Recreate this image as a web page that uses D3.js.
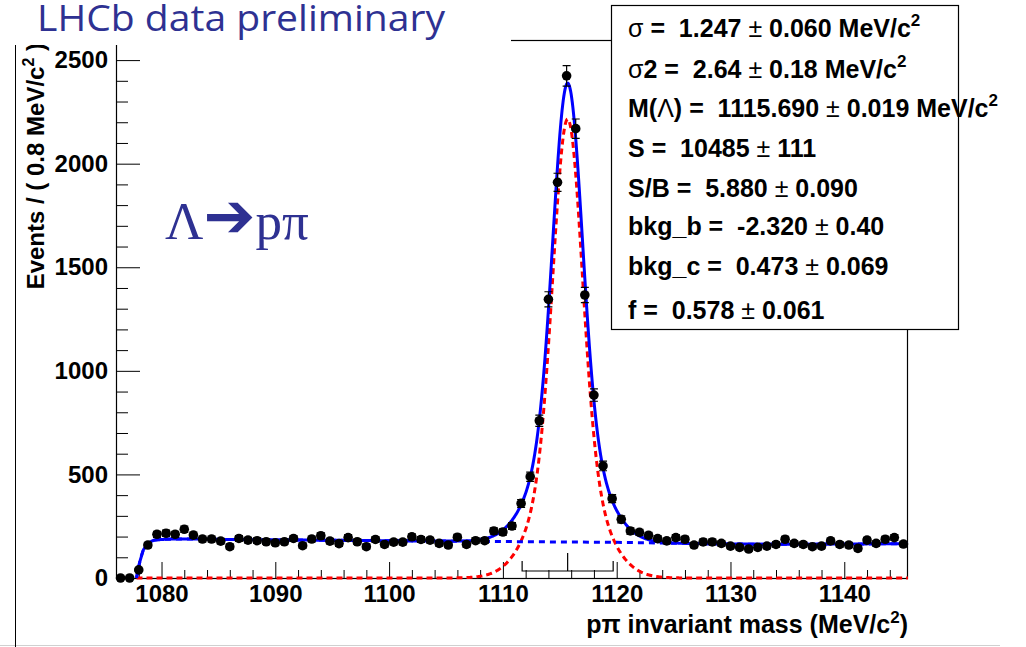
<!DOCTYPE html>
<html><head><meta charset="utf-8">
<script src="https://cdn.jsdelivr.net/npm/d3@7"></script>
<style>
body{margin:0;background:#fff}
svg{display:block}
</style>
</head><body>
<svg id="chart" width="1026" height="647" font-family="Liberation Sans, Arial, Helvetica, sans-serif"></svg>
<script>
// ---------- data ----------
const titleText = "LHCb data preliminary";
const decayLabel = ["Λ", "➔", "pπ"];
const xTitleParts = ["pπ invariant mass (MeV/c", "2", ")"];
const yTitleParts = ["Events / ( 0.8 MeV/c", "2", " )"];

const histLow = 1076.0, histHigh = 1145.6, binWidth = 0.8;
const counts = [
  0,0,39,159,211,216,211,235,207,188,188,178,151,191,183,180,175,170,175,191,
  156,188,204,178,166,195,175,151,186,162,173,173,199,186,183,167,159,197,162,180,
  180,227,222,251,360,
  489,759,1345,1910,2424,2169,1366,883,541,383,
  283,227,220,206,190,179,195,187,159,174,174,167,154,148,140,148,154,162,187,167,
  162,151,154,179,162,159,143,183,167,187,195,164
];

const xMajorTicks = [1080,1090,1100,1110,1120,1130,1140];
const xMinorTicks = [1078,1082,1084,1086,1088,1092,1094,1096,1098,1102,1104,1106,1108,
                     1112,1114,1116,1118,1122,1124,1126,1128,1132,1134,1136,1138,1142,1144];
const yMajorTicks = [0,500,1000,1500,2000,2500];
const yMinorTicks = [100,200,300,400,600,700,800,900,1100,1200,1300,1400,1600,1700,1800,1900,2100,2200,2300,2400];
const yMax = 2597;

// fit parameters (printed on the chart) and curve levels
const fitMean = 1115.690, fitSigma1 = 1.247, fitSigma2 = 2.64, fitFrac = 0.578;
const signalPeak = 2215;
const fitRange = [1077.8, 1145.6];
const bkgMass  = [1077.8,1078.1,1078.4,1078.8,1079.3,1080,1081,1083,1086,1090,1095,1100,1105,1110,1115,1120,1125,1130,1135,1140,1145.6];
const bkgLevel = [0,80,135,168,182,186,188,188,186,184,182,180,178,176,174,172,168,164,163,164,166];
const signalWindow = [1111.69, 1119.69];

const paramNames  = ["σ","σ2","M(Λ)","S","S/B","bkg_b","bkg_c","f"];
const paramValues = ["1.247","2.64","1115.690","10485","5.880","-2.320","0.473","0.578"];
const paramErrors = ["0.060","0.18","0.019","111","0.090","0.40","0.069","0.061"];
const paramUnits  = ["MeV/c","MeV/c","MeV/c","","","","",""];

// ---------- layout ----------
const svg = d3.select("#chart");
const X0 = 116, X1 = 908, Y0 = 578, Y1 = 40;
const x = d3.scaleLinear().domain([histLow, histHigh]).range([X0, X1]);
const y = d3.scaleLinear().domain([0, yMax]).range([Y0, Y1]);

// page decorations
svg.append("line").attr("x1",0).attr("x2",1000).attr("y1",645.5).attr("y2",645.5).attr("stroke","#d0d0d0");
svg.append("line").attr("x1",15.5).attr("x2",15.5).attr("y1",45).attr("y2",647).attr("stroke","#000");

// axes (ticks inside the frame)
svg.append("g").attr("transform",`translate(${X0},0)`)
  .call(d3.axisLeft(y).tickValues(yMajorTicks).tickSizeInner(-24).tickSizeOuter(0).tickPadding(8).tickFormat(d3.format("d")));
svg.append("g").attr("transform",`translate(${X0},0)`)
  .call(d3.axisLeft(y).tickValues(yMinorTicks).tickSizeInner(-12).tickSizeOuter(0).tickFormat(""));
svg.append("g").attr("transform",`translate(0,${Y0})`)
  .call(d3.axisBottom(x).tickValues(xMajorTicks).tickSizeInner(-16).tickSizeOuter(0).tickPadding(7).tickFormat(d3.format("d")));
svg.append("g").attr("transform",`translate(0,${Y0})`)
  .call(d3.axisBottom(x).tickValues(xMinorTicks).tickSizeInner(-8).tickSizeOuter(0).tickFormat(""));
svg.selectAll(".domain").remove();
svg.selectAll(".tick line").attr("stroke","#000");
svg.selectAll(".tick text").attr("font-size",24).attr("font-weight","bold").attr("fill","#000")
  .style("font-family","Liberation Sans, Arial, sans-serif");

// frame
svg.append("rect").attr("x",X0+0.5).attr("y",Y1+0.5).attr("width",X1-X0-1).attr("height",Y0-Y1)
  .attr("fill","none").attr("stroke","#000").attr("stroke-width",1.2);

// axis titles
const xt = svg.append("text").attr("x",X1).attr("y",633).attr("text-anchor","end")
  .attr("font-size",25).attr("font-weight","bold");
xt.append("tspan").text(xTitleParts[0]);
xt.append("tspan").attr("dy",-10).attr("font-size",17).text(xTitleParts[1]);
xt.append("tspan").attr("dy",10).text(xTitleParts[2]);

const yt = svg.append("text").attr("transform","translate(44,43) rotate(-90)").attr("text-anchor","end")
  .attr("font-size",24).attr("font-weight","bold");
yt.append("tspan").text(yTitleParts[0]);
yt.append("tspan").attr("dy",-10).attr("font-size",16).text(yTitleParts[1]);
yt.append("tspan").attr("dy",10).text(yTitleParts[2]);

// ---------- fit curves ----------
const norm = fitFrac/fitSigma1 + (1-fitFrac)/fitSigma2;
const signal = m => signalPeak * (fitFrac*Math.exp(-0.5*((m-fitMean)/fitSigma1)**2)/fitSigma1
                    + (1-fitFrac)*Math.exp(-0.5*((m-fitMean)/fitSigma2)**2)/fitSigma2) / norm;
const bkgAt = d3.scaleLinear().domain(bkgMass).range(bkgLevel).clamp(true);
const grid = d3.range(fitRange[0], fitRange[1] + 1e-9, 0.05);

const line = d3.line().x(d => x(d[0])).y(d => y(d[1]));
svg.append("path").datum(grid.map(m => [m, signal(m)]))
  .attr("d", line).attr("fill","none").attr("stroke","#ff0000").attr("stroke-width",3).attr("stroke-dasharray","6,4");
svg.append("path").datum(bkgMass.map((m,i) => [m, bkgLevel[i]]))
  .attr("d", d3.line().x(d => x(d[0])).y(d => y(d[1])).curve(d3.curveMonotoneX))
  .attr("fill","none").attr("stroke","#0000ff").attr("stroke-width",3).attr("stroke-dasharray","6,5");
svg.append("path").datum(grid.map(m => [m, bkgAt(m) + signal(m)]))
  .attr("d", line).attr("fill","none").attr("stroke","#0000ff").attr("stroke-width",3);

// signal window bracket
const wl = x(signalWindow[0]), wr = x(signalWindow[1]), wc = x(fitMean);
svg.append("path").attr("d",`M${wl},561V571H${wr}V561M${wc},553V571`).attr("fill","none").attr("stroke","#000").attr("stroke-width",1.2);

// ---------- data points ----------
const pts = counts.map((c,i) => ({m: histLow + binWidth*(i+0.5), c}));
const gp = svg.append("g");
gp.selectAll("path.err").data(pts).join("path").attr("class","err")
  .attr("d", d => {const e = Math.sqrt(d.c), cx = x(d.m);
     return `M${cx},${y(d.c+e)}V${y(d.c-e)}M${cx-4},${y(d.c+e)}H${cx+4}M${cx-4},${y(d.c-e)}H${cx+4}`;})
  .attr("stroke","#000").attr("stroke-width",1.2).attr("fill","none");
gp.selectAll("circle").data(pts).join("circle")
  .attr("cx", d => x(d.m)).attr("cy", d => y(d.c)).attr("r",4.8).attr("fill","#000");

// ---------- title ----------
svg.append("rect").attr("x",0).attr("y",0).attr("width",511).attr("height",45).attr("fill","#fff");
svg.append("text").attr("x",37).attr("y",31).style("font-family","Open Sans, sans-serif")
  .attr("font-size",37).attr("textLength",408).attr("lengthAdjust","spacingAndGlyphs")
  .attr("fill","#2e3192").text(titleText);

// decay label
const dl = svg.append("text").attr("x",165).attr("y",239).style("font-family","Liberation Serif, Times New Roman, serif")
  .attr("font-size",53).attr("fill","#2e3192");
dl.append("tspan").text(decayLabel[0]);
dl.append("tspan").style("font-family","DejaVu Sans, sans-serif").attr("font-size",62).attr("dy",-2).text(decayLabel[1]);
dl.append("tspan").attr("dy",2).text(decayLabel[2]);

// ---------- parameter box ----------
svg.append("rect").attr("x",611.5).attr("y",5.5).attr("width",347).attr("height",324)
  .attr("fill","#fff").attr("stroke","#000").attr("stroke-width",1.2);
const baselines = [37,78,117,157,197,235,275,319];
paramNames.forEach((name,i) => {
  const t = svg.append("text").attr("x",628).attr("y",baselines[i]).attr("font-size",25)
    .attr("font-weight","bold").style("white-space","pre");
  for (const ch of name) {
    const greek = /[σΛ]/.test(ch);
    t.append("tspan").attr("font-weight", greek ? "normal" : "bold").text(ch);
  }
  t.append("tspan").text(" =  " + paramValues[i]);
  t.append("tspan").attr("font-weight","normal").text(" ± ");
  t.append("tspan").text(paramErrors[i]);
  if (paramUnits[i]) {
    t.append("tspan").text(" " + paramUnits[i]);
    t.append("tspan").attr("dy",-11).attr("font-size",17).text("2");
  }
});
</script>
</body></html>
